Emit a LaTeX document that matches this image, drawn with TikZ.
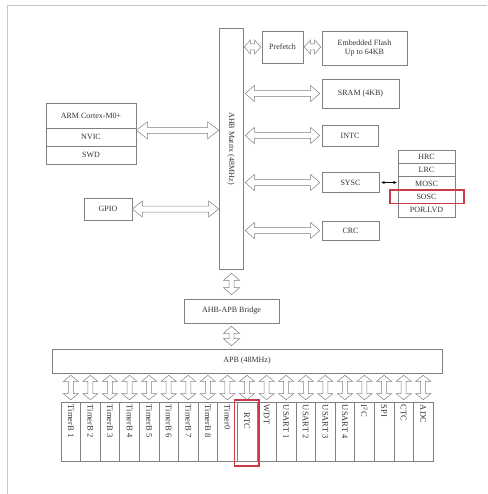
\documentclass[tikz,border=0pt]{standalone}
\usepackage{fontspec}
\setmainfont{Liberation Serif}
\usetikzlibrary{calc,arrows.meta}
\definecolor{lineg}{gray}{0.5}
\definecolor{txtc}{gray}{0.2}
\definecolor{redb}{RGB}{200,60,70}
\tikzset{
 box/.style={draw=lineg, line width=0.6pt, inner sep=0pt, text=txtc, font=\fontsize{8}{9.5}\selectfont, align=center},
 blk/.style={draw=lineg, line width=0.5pt, fill=white, line join=miter},
 vlabel/.style={rotate=-90, text=txtc, font=\fontsize{8}{9}\selectfont, inner sep=0pt},
 plabel/.style={rotate=-90, anchor=west, text=txtc, font=\fontsize{8.5}{9}\selectfont, inner sep=0pt},
 redbox/.style={draw=redb, line width=1.1pt},
 frame/.style={draw=gray!45, line width=0.5pt},
 thinarrow/.style={{Stealth[length=3.5pt,width=3pt]}-{Stealth[length=3.5pt,width=3pt]}, black, line width=0.5pt},
}
\newcommand\hdbl[6]{\draw[blk] let \p1=#1, \p2=#2 in
 (\x1+#6,\y1) -- (\x1+#6+#5,\y1+#3) -- (\x1+#6+#5,\y1+#4) -- (\x2-#6-#5,\y1+#4) -- (\x2-#6-#5,\y1+#3) -- (\x2-#6,\y1) -- (\x2-#6-#5,\y1-#3) -- (\x2-#6-#5,\y1-#4) -- (\x1+#6+#5,\y1-#4) -- (\x1+#6+#5,\y1-#3) -- cycle;}
\newcommand\vdbl[6]{\draw[blk] let \p1=#1, \p2=#2 in
 (\x1,\y1-#6) -- (\x1+#3,\y1-#6-#5) -- (\x1+#4,\y1-#6-#5) -- (\x1+#4,\y2+#6+#5) -- (\x1+#3,\y2+#6+#5) -- (\x1,\y2+#6) -- (\x1-#3,\y2+#6+#5) -- (\x1-#4,\y2+#6+#5) -- (\x1-#4,\y1-#6-#5) -- (\x1-#3,\y1-#6-#5) -- cycle;}
\begin{document}
\begin{tikzpicture}[x=1pt,y=-1pt]
\useasboundingbox (0,0) rectangle (487,494);
\draw[frame] (7,494) -- (7,5) -- (487,5);

% AHB matrix
\node[box, minimum width=24pt, minimum height=241pt] (ahb) at (231,148.5) {};
\node[vlabel] (ahbt) at (ahb.center) {AHB Matrix (48MHz)};

% right side
\node[box, minimum width=41pt, minimum height=32pt] (prefetch) at (282.5,47) {Prefetch};
\node[box, minimum width=85pt, minimum height=34pt] (flash) at (364.5,48) {Embedded Flash\\Up to 64KB};
\node[box, minimum width=77pt, minimum height=29pt] (sram) at (360.5,93.5) {SRAM (4KB)};
\node[box, minimum width=56pt, minimum height=21pt] (intc) at (350,135.5) {INTC};
\node[box, minimum width=57pt, minimum height=20pt] (sysc) at (350.5,182.5) {SYSC};
\node[box, minimum width=57pt, minimum height=19pt] (crc) at (350.5,230.5) {CRC};

% clock stack
\node[box, minimum width=57pt, minimum height=13.4pt] (hrc) at (426.5,156.7) {HRC};
\node[box, minimum width=57pt, minimum height=13.4pt] (lrc) at (426.5,170.1) {LRC};
\node[box, minimum width=57pt, minimum height=13.4pt] (mosc) at (426.5,183.5) {MOSC};
\node[box, minimum width=57pt, minimum height=13.4pt] (sosc) at (426.5,196.9) {SOSC};
\node[box, minimum width=57pt, minimum height=13.4pt] (por) at (426.5,210.3) {POR.LVD};
\draw[redbox] (390,190) rectangle (464,203.5);

% left side
\node[box, minimum width=90pt, minimum height=25pt] (armcpu) at (91,115.5) {ARM Cortex-M0+};
\node[box, minimum width=90pt, minimum height=18pt] (nvic) at (91,137) {NVIC};
\node[box, minimum width=90pt, minimum height=18pt] (swd) at (91,155) {SWD};
\node[box, minimum width=48pt, minimum height=22pt] (gpio) at (108,209) {GPIO};

% bridge, APB
\node[box, minimum width=95pt, minimum height=24pt] (bridge) at (231.5,311) {AHB-APB Bridge};
\node[box, minimum width=390pt, minimum height=24pt] (apb) at (247,361) {APB (48MHz)};

% block arrows
\hdbl{($(armcpu.south east)+(0,2)$)}{($(ahb.west |- armcpu.south east)+(0,2)$)}{8.5pt}{3pt}{11pt}{0pt}
\hdbl{(gpio.east)}{(ahb.west |- gpio.east)}{8pt}{3pt}{10pt}{0pt}
\hdbl{(ahb.east |- prefetch.west)}{(prefetch.west)}{7pt}{3pt}{6pt}{1pt}
\hdbl{(prefetch.east)}{(flash.west |- prefetch.east)}{7pt}{3pt}{6pt}{1pt}
\hdbl{(ahb.east |- sram.west)}{(sram.west)}{8pt}{3pt}{9pt}{2pt}
\hdbl{(ahb.east |- intc.west)}{(intc.west)}{8pt}{3pt}{9pt}{2pt}
\hdbl{(ahb.east |- sysc.west)}{(sysc.west)}{8pt}{3pt}{9pt}{2pt}
\hdbl{(ahb.east |- crc.west)}{(crc.west)}{8pt}{3pt}{9pt}{2pt}
\vdbl{(ahb.south -| bridge.north)}{(bridge.north)}{8pt}{2.5pt}{7pt}{4pt}
\vdbl{(bridge.south)}{(apb.north -| bridge.south)}{8pt}{2.5pt}{7pt}{3pt}
\draw[thinarrow] ($(sysc.east)+(2,0)$) -- ($(sysc.east -| mosc.west)+(-1,0)$);

% peripherals
\foreach \n/\dy [count=\i from 0] in {TimerB 1/3,TimerB 2/3,TimerB 3/3,TimerB 4/3,TimerB 5/3,TimerB 6/3,TimerB 7/3,TimerB 8/3,Timer0/3,RTC/11,WDT/3,USART 1/3,USART 2/3,USART 3/3,USART 4/3,{I\textsuperscript{2}C}/3,SPI/3,CTC/3,ADC/3}{
 \node[box, minimum width=19.58pt, minimum height=59pt] (p\i) at ({61+19.58*(\i+0.5)},431.5) {};
 \node[plabel] (pl\i) at ($(p\i.north)+(0,\dy)$) {\n};
 \vdbl{(apb.south -| p\i.north)}{(p\i.north)}{7.5pt}{2.5pt}{6pt}{2pt}
}
\draw[redbox] (234.5,400) rectangle (259,466);
\end{tikzpicture}
\end{document}
